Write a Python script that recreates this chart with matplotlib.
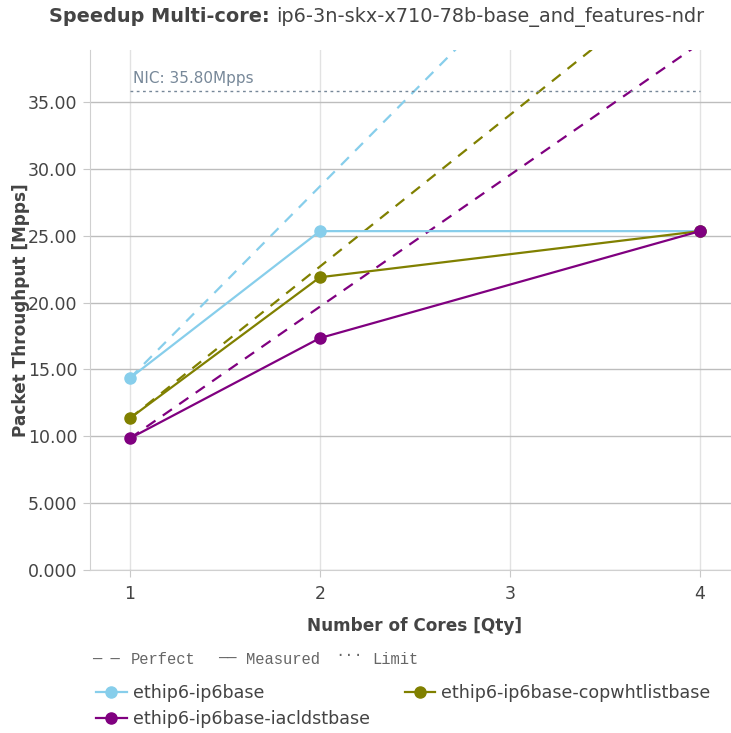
import matplotlib
matplotlib.use('Agg')
import matplotlib.pyplot as plt

# data
cores = [1, 2, 4]
series_names = ['ethip6-ip6base',
                'ethip6-ip6base-copwhtlistbase',
                'ethip6-ip6base-iacldstbase']
series_colors = ['#87ceeb', '#808000', '#800080']
measured = [
    [14.35, 25.35, 25.35],
    [11.35, 21.90, 25.35],
    [9.85, 17.35, 25.35],
]
perfect = [
    [14.35, 28.70, 57.40],
    [11.35, 22.70, 45.40],
    [9.85, 19.70, 39.40],
]
nic_limit = 35.8
nic_label = 'NIC: 35.80Mpps'
y_ticks = [0, 5, 10, 15, 20, 25, 30, 35]
y_tick_labels = ['0.000', '5.000', '10.00', '15.00', '20.00', '25.00', '30.00', '35.00']
x_ticks = [1, 2, 3, 4]

TEXT = '#444444'
W, H = 731, 733

fig = plt.figure(figsize=(W / 100, H / 100), dpi=100)
ax = fig.add_axes([90 / W, 1 - 570 / H, 1 - 90 / W, (570 - 50) / H])

for ys, c in zip(perfect, series_colors):
    ax.plot(cores, ys, color=c, lw=1.6, dashes=(5, 4), zorder=3)

lines = []
for ys, c, name in zip(measured, series_colors, series_names):
    ln, = ax.plot(cores, ys, color=c, lw=1.6, marker='o', markersize=8,
                  label=name, zorder=4)
    lines.append(ln)

ax.plot([1, 4], [nic_limit, nic_limit], color='#778899', lw=1, ls=(0, (2, 2.5)), zorder=3)
ax.text(1.015, nic_limit + 0.4, nic_label, color='#778899', fontsize=11,
        ha='left', va='bottom')

ax.set_xlim(0.79, 4.163)
ax.set_ylim(0, 38.9)
ax.set_xticks(x_ticks)
ax.set_xticklabels([str(x) for x in x_ticks])
ax.set_yticks(y_ticks)
ax.set_yticklabels(y_tick_labels)

ax.grid(axis='y', color='#bdbdbd', lw=1)
ax.grid(axis='x', color='#e2e2e2', lw=1)
ax.set_axisbelow(True)
for s in ['top', 'right']:
    ax.spines[s].set_visible(False)
for s in ['left', 'bottom']:
    ax.spines[s].set_color('#d0d0d0')
ax.tick_params(axis='both', colors='#c8c8c8', labelcolor=TEXT, labelsize=12.5,
               length=5)
ax.tick_params(axis='x', pad=6)
ax.tick_params(axis='y', pad=4)

ax.set_xlabel('Number of Cores [Qty]', fontsize=12.2, fontweight='bold',
              color=TEXT)
ax.xaxis.set_label_coords((415 - 90) / (W - 90), -(626 - 570) / 520)
ax.set_ylabel('Packet Throughput [Mpps]', fontsize=12.2, fontweight='bold',
              color=TEXT)
ax.yaxis.set_label_coords(-(90 - 21) / (W - 90), (570 - 310) / 520)
ax.xaxis.label.set_va('center')
ax.yaxis.label.set_va('center')

# title: bold prefix followed directly by the plain part
t1 = fig.text(49 / W, 1 - 17 / H, 'Speedup Multi-core:', fontsize=13.85,
              fontweight='bold', color=TEXT, ha='left', va='center')
fig.canvas.draw()
bb = t1.get_window_extent()
fig.text((bb.x1 + 6) / W, 1 - 17 / H, 'ip6-3n-skx-x710-78b-base_and_features-ndr',
         fontsize=13.85, color=TEXT, ha='left', va='center')

# line style legend
mono = dict(family='Liberation Mono', fontsize=11.2, color='#666666')
fig.text(92 / W, 1 - 652 / H, '_ _', ha='left', va='center', **mono)
fig.text(131 / W, 1 - 660 / H, 'Perfect', ha='left', va='center', **mono)
fig.text(218 / W, 1 - 652 / H, '__', ha='left', va='center', **mono)
fig.text(246 / W, 1 - 660 / H, 'Measured', ha='left', va='center', **mono)
fig.text(335 / W, 1 - 652 / H, '...', ha='left', va='center', **mono)
fig.text(372 / W, 1 - 660 / H, 'Limit', ha='left', va='center', **mono)

handles = [lines[0], lines[2], lines[1]]
leg = fig.legend(handles, [h.get_label() for h in handles], loc='upper left',
                 bbox_to_anchor=(96 / W, 1 - 684 / H), ncol=2, frameon=False,
                 fontsize=12.6, handlelength=1.75, handletextpad=0.35,
                 columnspacing=2.0, labelspacing=0.45, borderaxespad=0,
                 borderpad=0)
for t in leg.get_texts():
    t.set_color(TEXT)

fig.savefig('out.png', dpi=100)
